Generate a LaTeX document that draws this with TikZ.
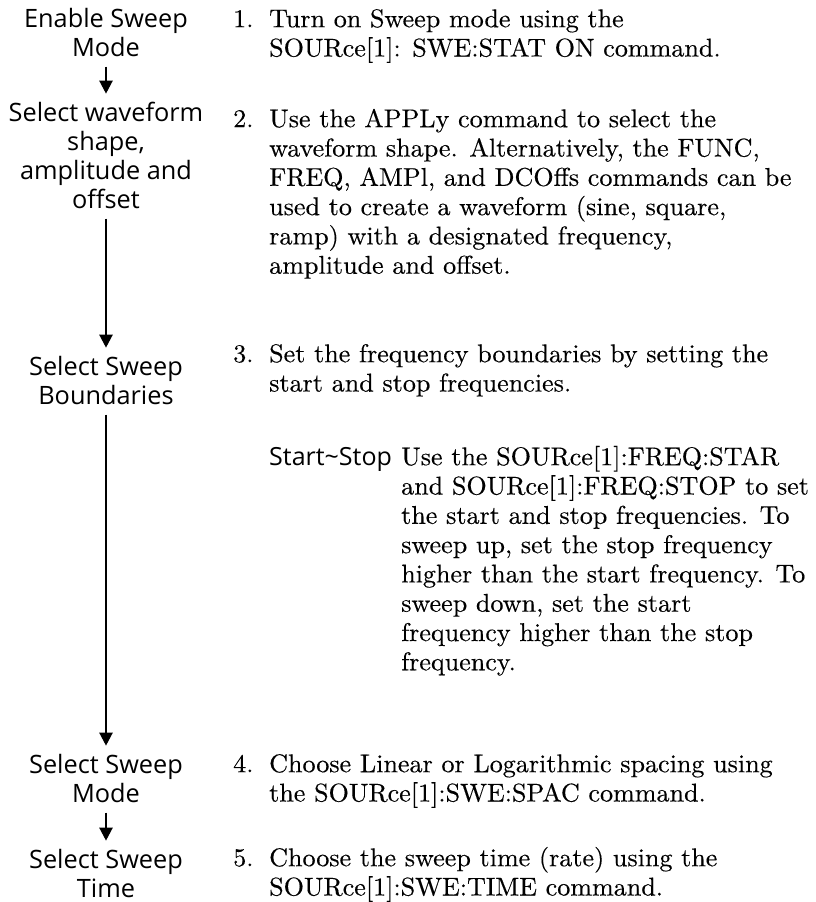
\documentclass[tikz,border=0pt]{standalone}
\usepackage{fontspec}
\newfontfamily\flowfont{Open Sans}
\newfontfamily\stepfont{lmroman10-regular.otf}[FakeStretch=1.015, FakeBold=0.3]
\usepackage{tikz}
\usetikzlibrary{arrows.meta}

\begin{document}
\begin{tikzpicture}[
    x=1pt, y=-1pt,
    flow/.style={font=\flowfont\fontsize{25.3}{29}\selectfont, align=center, anchor=north, inner sep=0pt},
    num/.style={font=\stepfont\fontsize{25.7}{29.3}\selectfont, anchor=north west, inner sep=0pt},
    desc/.style={font=\stepfont\fontsize{25.7}{29.3}\selectfont, align=left, anchor=north west, inner sep=0pt},
    term/.style={font=\flowfont\fontsize{25}{29}\selectfont, anchor=north west, inner sep=0pt},
    link/.style={line width=2.3pt, -{Triangle[width=13pt,length=13pt]}, shorten <=10pt, shorten >=7pt},
]
\useasboundingbox (0,0) rectangle (815,902);

% Flow steps
\node[flow] (enable) at (106,6.7) {\strut Enable Sweep\\Mode};
\node[flow] (wave) at (106,100.7) {\strut Select waveform\\shape,\\amplitude and\\offset};
\node[flow] (bounds) at (106,354.7) {\strut Select Sweep\\Boundaries};
\node[flow] (mode) at (106,752.7) {\strut Select Sweep\\Mode};
\node[flow] (time) at (106,847.7) {\strut Select Sweep\\Time};

\draw[link] (enable) -- (wave);
\draw[link] (wave) -- (bounds);
\draw[link] (bounds) -- (mode);
\draw[link] (mode) -- (time);

% Step 1
\node[num] (n1) at (233,6.5) {\strut 1.};
\node[desc] (d1) at (269,6.5) {\strut Turn on Sweep mode using the\\SOURce[1]: SWE:STAT ON command.};

% Step 2
\node[num] (n2) at (233,106.5) {\strut 2.};
\node[desc] (d2) at (269,106.5) {\strut Use the APPLy command to select the\\waveform shape. Alternatively, the FUNC,\\FREQ, AMPl, and DCOffs commands can be\\used to create a waveform (sine, square,\\ramp) with a designated frequency,\\amplitude and offset.};

% Step 3
\node[num] (n3) at (233,341.5) {\strut 3.};
\node[desc] (d3) at (269,341.5) {\strut Set the frequency boundaries by setting the\\start and stop frequencies.};
\node[term] (ss) at (269,444.7) {\strut Start\textasciitilde Stop};
\node[desc] (dss) at (401,444.5) {\strut Use the SOURce[1]:FREQ:STAR\\and SOURce[1]:FREQ:STOP to set\\the start and stop frequencies. To\\sweep up, set the stop frequency\\higher than the start frequency. To\\sweep down, set the start\\frequency higher than the stop\\frequency.};

% Step 4
\node[num] (n4) at (233,751.5) {\strut 4.};
\node[desc] (d4) at (269,751.5) {\strut Choose Linear or Logarithmic spacing using\\the SOURce[1]:SWE:SPAC command.};

% Step 5
\node[num] (n5) at (233,845.5) {\strut 5.};
\node[desc] (d5) at (269,845.5) {\strut Choose the sweep time (rate) using the\\SOURce[1]:SWE:TIME command.};

\end{tikzpicture}
\end{document}
